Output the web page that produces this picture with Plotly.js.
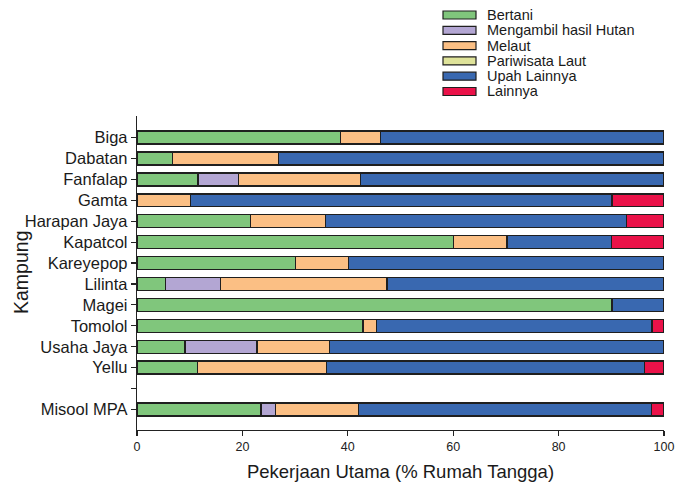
<!DOCTYPE html>
<html>
<head>
<meta charset="utf-8">
<script src="https://cdn.plot.ly/plotly-3.0.1.min.js"></script>
<style>html,body{margin:0;padding:0;background:#fff;}#chart{width:677px;height:489px;}</style>
</head>
<body>
<div id="chart"></div>
<script>
// Categories (a blank slot separates the villages from the MPA total)
const kampung = ["Biga","Dabatan","Fanfalap","Gamta","Harapan Jaya","Kapatcol","Kareyepop","Lilinta","Magei","Tomolol","Usaha Jaya","Yellu","","Misool MPA"];
// Row position of each category with data (blank slot at 12 has none)
const rowPos = [0,1,2,3,4,5,6,7,8,9,10,11,13];

// Series values (% of households), in order of rows with data
const bertani      = [38.6, 6.7, 11.6, 0,    21.5, 60.0, 30.1, 5.4, 90.1, 42.9, 9.1, 11.5, 23.5];
const hutan        = [0,    0,   7.7,  0,    0,    0,    0,    10.5, 0,   0,    13.7, 0,   2.8];
const melaut       = [7.6,  20.1, 23.1, 10.1, 14.3, 10.2, 10.0, 31.5, 0,   2.5,  13.7, 24.5, 15.7];
const pariwisata   = [0,    0,   0,    0,    0,    0,    0,    0,    0,   0,    0,    0,    0];
const upah         = [53.8, 73.2, 57.6, 80.0, 57.1, 19.8, 59.9, 52.6, 9.9, 52.3, 63.5, 60.3, 55.6];
const lainnya      = [0,    0,   0,    9.9,  7.1,  9.9,  0,    0,    0,   2.3,  0,    3.7,  2.4];

const seriesNames  = ["Bertani","Mengambil hasil Hutan","Melaut","Pariwisata Laut","Upah Lainnya","Lainnya"];
const seriesValues = [bertani, hutan, melaut, pariwisata, upah, lainnya];
const seriesColors = ["#80c67c","#b3a6d3","#fbbf84","#dfe39a","#3968b0","#ea1249"];

const traces = seriesNames.map((name, i) => ({
  type: "bar",
  orientation: "h",
  name: name,
  x: seriesValues[i],
  y: rowPos,
  width: 0.62,
  marker: {color: seriesColors[i], line: {color: "#1f1f1f", width: 1.4}},
  hoverinfo: "name+x",
  showlegend: false
}));

// Plot area geometry (pixels) used to place the legend box in paper coordinates
const W = 677, H = 489, ML = 137, MR = 13, MT = 116, MB = 59;
const pw = W - ML - MR, ph = H - MT - MB;
const px2x = p => (p - ML) / pw;
const py2y = p => (H - MB - p) / ph;

const shapes = [];
const annotations = [];
seriesNames.forEach((name, i) => {
  const yc = 15 + 15.3 * i;
  shapes.push({
    type: "rect", xref: "paper", yref: "paper",
    x0: px2x(443), x1: px2x(476), y0: py2y(yc + 4), y1: py2y(yc - 4),
    fillcolor: seriesColors[i], line: {color: "#1f1f1f", width: 1.2}
  });
  annotations.push({
    text: name, xref: "paper", yref: "paper", x: px2x(485), y: py2y(yc),
    xanchor: "left", yanchor: "middle", showarrow: false,
    font: {size: 14.5, color: "#1a1a1a"}
  });
});
annotations.push({
  text: "Kampung", xref: "paper", yref: "paper", x: px2x(21), y: 0.5,
  xanchor: "center", yanchor: "middle", textangle: -90, showarrow: false,
  font: {size: 19.5, color: "#1a1a1a"}
});

const layout = {
  width: W, height: H,
  margin: {l: ML, r: MR, t: MT, b: MB, pad: 0},
  paper_bgcolor: "#fff", plot_bgcolor: "#fff",
  barmode: "stack",
  bargap: 0,
  font: {family: "Liberation Sans, Arial, sans-serif", color: "#1a1a1a"},
  xaxis: {
    range: [0, 100], tickvals: [0,20,40,60,80,100], ticktext: ["0","20","40","60","80","100"],
    showgrid: false, zeroline: false, showline: true, linecolor: "#222", linewidth: 1.2,
    ticks: "outside", ticklen: 5, tickcolor: "#222", tickwidth: 1.2,
    tickfont: {size: 12.5, color: "#222"},
    title: {text: "Pekerjaan Utama (% Rumah Tangga)", font: {size: 18.5, color: "#1a1a1a"}, standoff: 11}
  },
  yaxis: {
    range: [13.98, -1.03],
    tickmode: "array", tickvals: kampung.map((_, i) => i), ticktext: kampung,
    showgrid: false, zeroline: false, showline: true, linecolor: "#222", linewidth: 1.2,
    ticks: "outside", ticklen: 5, tickcolor: "#222", tickwidth: 1.2,
    tickfont: {size: 16.5, color: "#1a1a1a"}
  },
  showlegend: false,
  shapes: shapes,
  annotations: annotations
};

Plotly.newPlot("chart", traces, layout, {displayModeBar: false, staticPlot: true});
</script>
</body>
</html>
